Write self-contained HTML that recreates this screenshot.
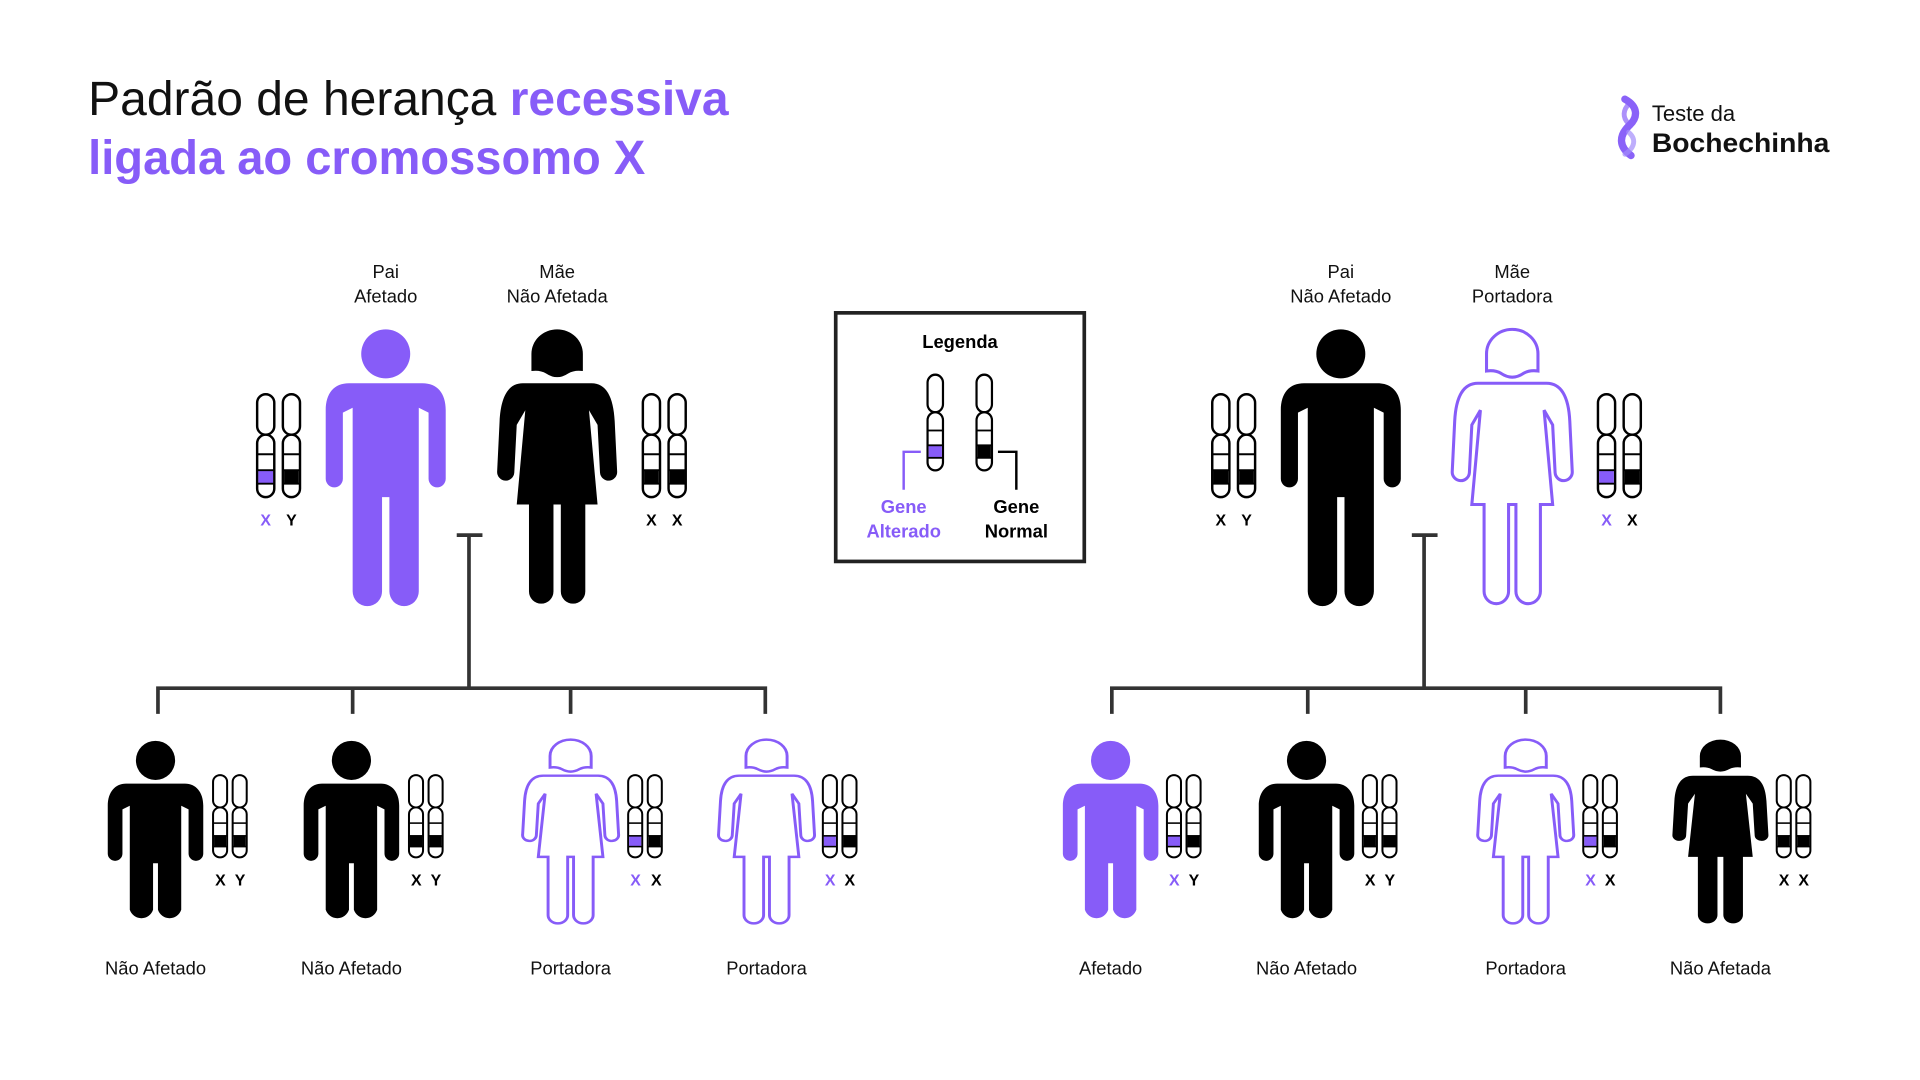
<!DOCTYPE html>
<html><head><meta charset="utf-8"><style>
html,body{margin:0;padding:0;background:#fff;width:1920px;height:1080px;overflow:hidden}
svg{display:block}
text{font-family:"Liberation Sans",sans-serif}
</style></head><body>
<svg width="1920" height="1080" viewBox="0 0 1568 882" xmlns="http://www.w3.org/2000/svg">
<defs>
  <g id="manP">
    <circle cx="0" cy="20" r="20"/>
    <path d="M -30,44 H 30 C 42,44 49,52 49,66 V 122 A 7 7 0 0 1 35 122 V 68 L 27,64 V 214 A 12 12 0 0 1 3 214 V 137 H -3 V 214 A 12 12 0 0 1 -27 214 V 64 L -35,68 V 122 A 7 7 0 0 1 -49 122 V 66 C -49,52 -42,44 -30,44 Z"/>
  </g>
  <g id="manC">
    <circle cx="0" cy="16" r="16"/>
    <path d="M -24,35 H 24 C 33,35 39,42 39,53 V 92 A 6 6 0 0 1 27 92 V 56 L 21,53 V 138 A 10 10 0 0 1 2 138 V 100 H -2 V 138 A 10 10 0 0 1 -21 138 V 53 L -27,56 V 92 A 6 6 0 0 1 -39 92 V 53 C -39,42 -33,35 -24,35 Z"/>
  </g>
  <g id="womanP">
    <path d="M -21,34 V 20 A 21 20 0 0 1 21 20 V 34 Q 14,33 9,36 Q 0,42 -9,36 Q -14,33 -21,34 Z"/>
    <path d="M -28,44 H 28 C 40,44 46,55 47,75 L 49,116 A 7 7 0 0 1 35,117 L 33,78 L 26,66 L 33,143 H 23 V 214 A 10 10 0 0 1 3 214 V 143 H -3 V 214 A 10 10 0 0 1 -23 214 V 143 H -33 L -26,66 L -33,78 L -35,117 A 7 7 0 0 1 -49,116 L -47,75 C -46,55 -40,44 -28,44 Z"/>
  </g>
  <g id="chrB">
    <rect x="0" y="0" width="14" height="33" rx="7" fill="#fff" stroke="#000" stroke-width="2"/>
    <rect x="0" y="33" width="14" height="51" rx="7" fill="#fff" stroke="#000" stroke-width="2"/>
    <line x1="0" y1="49" x2="14" y2="49" stroke="#000" stroke-width="1.6"/>
    <rect x="1" y="62" width="12" height="11" fill="#000"/>
    <line x1="0" y1="62" x2="14" y2="62" stroke="#000" stroke-width="1.6"/>
    <line x1="0" y1="73" x2="14" y2="73" stroke="#000" stroke-width="1.6"/>
  </g>
  <g id="chrP">
    <rect x="0" y="0" width="14" height="33" rx="7" fill="#fff" stroke="#000" stroke-width="2"/>
    <rect x="0" y="33" width="14" height="51" rx="7" fill="#fff" stroke="#000" stroke-width="2"/>
    <line x1="0" y1="49" x2="14" y2="49" stroke="#000" stroke-width="1.6"/>
    <rect x="1" y="62" width="12" height="11" fill="#875cf8"/>
    <line x1="0" y1="62" x2="14" y2="62" stroke="#000" stroke-width="1.6"/>
    <line x1="0" y1="73" x2="14" y2="73" stroke="#000" stroke-width="1.6"/>
  </g>
</defs>

<!-- Title -->
<text x="72" y="94" font-size="39" textLength="523" lengthAdjust="spacingAndGlyphs" fill="#111">Padrão de herança <tspan font-weight="bold" fill="#875cf8">recessiva</tspan></text>
<text x="72" y="142" font-size="39" font-weight="bold" fill="#875cf8" textLength="455" lengthAdjust="spacingAndGlyphs">ligada ao cromossomo X</text>

<!-- Logo -->
<path d="M1327,81 C1338,87 1338,96 1330,103 C1322,111 1322,120 1332,127" fill="none" stroke="#8a62f8" stroke-width="6" stroke-linecap="round"/>
<path d="M1331,84 C1325,90 1325,96 1330,101" fill="none" stroke="#8a62f8" stroke-width="4" stroke-linecap="round" opacity="0.7"/>
<path d="M1330,108 C1336,113 1336,120 1327,126" fill="none" stroke="#a38cfb" stroke-width="4" stroke-linecap="round" opacity="0.7"/>
<text x="1349" y="99" font-size="18" fill="#111">Teste da</text>
<text x="1349" y="124" font-size="22" font-weight="bold" fill="#111" textLength="145" lengthAdjust="spacingAndGlyphs">Bochechinha</text>

<g font-size="15" text-anchor="middle" fill="#111">
  <text x="315" y="227">Pai</text><text x="315" y="247">Afetado</text>
  <text x="455" y="227">Mãe</text><text x="455" y="247">Não Afetada</text>
  <text x="1095" y="227">Pai</text><text x="1095" y="247">Não Afetado</text>
  <text x="1235" y="227">Mãe</text><text x="1235" y="247">Portadora</text>
</g>

<!-- Parents left -->
<g transform="translate(315,269)" fill="#875cf8"><use href="#manP"/></g>
<g transform="translate(455,269)" fill="#000"><use href="#womanP"/></g>
<use href="#chrP" x="210" y="322"/><use href="#chrB" x="231" y="322"/>
<use href="#chrB" x="525" y="322"/><use href="#chrB" x="546" y="322"/>
<g font-size="13" font-weight="bold" text-anchor="middle">
  <text x="217" y="429" fill="#875cf8">X</text><text x="238" y="429">Y</text>
  <text x="532" y="429">X</text><text x="553" y="429">X</text>
</g>

<!-- Parents right -->
<g transform="translate(1095,269)" fill="#000"><use href="#manP"/></g>
<g transform="translate(1235,269)" fill="#fff" stroke="#875cf8" stroke-width="2.5"><use href="#womanP"/></g>
<use href="#chrB" x="990" y="322"/><use href="#chrB" x="1011" y="322"/>
<use href="#chrP" x="1305" y="322"/><use href="#chrB" x="1326" y="322"/>
<g font-size="13" font-weight="bold" text-anchor="middle">
  <text x="997" y="429">X</text><text x="1018" y="429">Y</text>
  <text x="1312" y="429" fill="#875cf8">X</text><text x="1333" y="429">X</text>
</g>

<!-- Connectors -->
<g stroke="#333" stroke-width="3" fill="none">
  <path d="M373,437 H394 M383,437 V562 M129,583 V562 H625 V583 M288,562 V583 M466,562 V583"/>
  <path d="M1153,437 H1174 M1163,437 V562 M908,583 V562 H1405 V583 M1068,562 V583 M1246,562 V583"/>
</g>

<!-- Legend -->
<rect x="682.5" y="255.5" width="203" height="203" fill="#fff" stroke="#222" stroke-width="3"/>
<text x="784" y="284" font-size="15" font-weight="bold" text-anchor="middle">Legenda</text>
<g transform="translate(757.5,306) scale(0.9,0.93)"><use href="#chrP"/></g>
<g transform="translate(797.5,306) scale(0.9,0.93)"><use href="#chrB"/></g>
<path d="M752,369 H738 V400" stroke="#875cf8" stroke-width="2" fill="none"/>
<path d="M815,369 H830 V400" stroke="#000" stroke-width="2" fill="none"/>
<g font-size="15" font-weight="bold" text-anchor="middle">
  <text x="738" y="419" fill="#875cf8">Gene</text><text x="738" y="439" fill="#875cf8">Alterado</text>
  <text x="830" y="419">Gene</text><text x="830" y="439">Normal</text>
</g>

<!-- Children -->
<g>
  <g transform="translate(127,605)" fill="#000"><use href="#manC"/></g>
  <g transform="translate(287,605)" fill="#000"><use href="#manC"/></g>
  <g transform="translate(466,604) scale(0.8,0.67)" fill="#fff" stroke="#875cf8" stroke-width="3"><use href="#womanP"/></g>
  <g transform="translate(626,604) scale(0.8,0.67)" fill="#fff" stroke="#875cf8" stroke-width="3"><use href="#womanP"/></g>

  <g transform="translate(907,605)" fill="#875cf8"><use href="#manC"/></g>
  <g transform="translate(1067,605)" fill="#000"><use href="#manC"/></g>
  <g transform="translate(1246,604) scale(0.8,0.67)" fill="#fff" stroke="#875cf8" stroke-width="3"><use href="#womanP"/></g>
  <g transform="translate(1405,604) scale(0.8,0.67)" fill="#000"><use href="#womanP"/></g>
</g>

<!-- Child chromosomes -->
<g transform="translate(174,633) scale(0.82,0.8)"><use href="#chrB"/></g>
<g transform="translate(190,633) scale(0.82,0.8)"><use href="#chrB"/></g>
<g transform="translate(334,633) scale(0.82,0.8)"><use href="#chrB"/></g>
<g transform="translate(350,633) scale(0.82,0.8)"><use href="#chrB"/></g>
<g transform="translate(513,633) scale(0.82,0.8)"><use href="#chrP"/></g>
<g transform="translate(529,633) scale(0.82,0.8)"><use href="#chrB"/></g>
<g transform="translate(672,633) scale(0.82,0.8)"><use href="#chrP"/></g>
<g transform="translate(688,633) scale(0.82,0.8)"><use href="#chrB"/></g>

<g transform="translate(953,633) scale(0.82,0.8)"><use href="#chrP"/></g>
<g transform="translate(969,633) scale(0.82,0.8)"><use href="#chrB"/></g>
<g transform="translate(1113,633) scale(0.82,0.8)"><use href="#chrB"/></g>
<g transform="translate(1129,633) scale(0.82,0.8)"><use href="#chrB"/></g>
<g transform="translate(1293,633) scale(0.82,0.8)"><use href="#chrP"/></g>
<g transform="translate(1309,633) scale(0.82,0.8)"><use href="#chrB"/></g>
<g transform="translate(1451,633) scale(0.82,0.8)"><use href="#chrB"/></g>
<g transform="translate(1467,633) scale(0.82,0.8)"><use href="#chrB"/></g>

<g font-size="13" font-weight="bold" text-anchor="middle">
  <text x="180" y="723">X</text><text x="196" y="723">Y</text>
  <text x="340" y="723">X</text><text x="356" y="723">Y</text>
  <text x="519" y="723" fill="#875cf8">X</text><text x="536" y="723">X</text>
  <text x="678" y="723" fill="#875cf8">X</text><text x="694" y="723">X</text>
  <text x="959" y="723" fill="#875cf8">X</text><text x="975" y="723">Y</text>
  <text x="1119" y="723">X</text><text x="1135" y="723">Y</text>
  <text x="1299" y="723" fill="#875cf8">X</text><text x="1315" y="723">X</text>
  <text x="1457" y="723">X</text><text x="1473" y="723">X</text>
</g>

<g font-size="15" text-anchor="middle" fill="#111">
  <text x="127" y="796">Não Afetado</text>
  <text x="287" y="796">Não Afetado</text>
  <text x="466" y="796">Portadora</text>
  <text x="626" y="796">Portadora</text>
  <text x="907" y="796">Afetado</text>
  <text x="1067" y="796">Não Afetado</text>
  <text x="1246" y="796">Portadora</text>
  <text x="1405" y="796">Não Afetada</text>
</g>
</svg>
</body></html>
